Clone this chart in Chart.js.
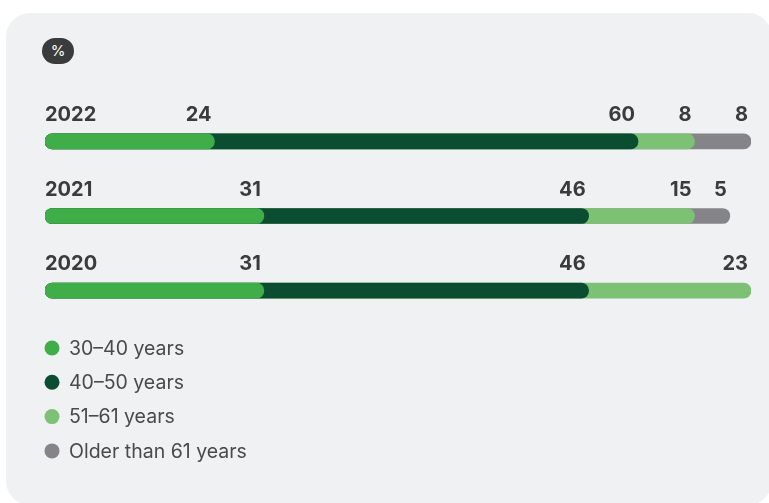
<!DOCTYPE html>
<html>
<head>
<meta charset="utf-8">
<script src="https://cdn.jsdelivr.net/npm/chart.js@4"></script>
<style>
  html, body { margin: 0; padding: 0; background: #ffffff; width: 769px; height: 503px; overflow: hidden; }
  .card { position: absolute; left: 6px; top: 13px; width: 766px; height: 492px; border-radius: 24px; background: #f0f1f3; }
  .badge { position: absolute; left: 42px; top: 38px; width: 32px; height: 26px; border-radius: 13px; background: #3b3b3b;
           color: #ffffff; font: 400 15px Inter, sans-serif; line-height: 26px; text-align: center; }
  .wrap { position: absolute; left: 0; top: 0; width: 769px; height: 503px; }
</style>
</head>
<body>
<div class="card"></div>
<div class="badge">%</div>
<div class="wrap"><canvas id="c"></canvas></div>
<script>
// Age structure by year, in percent
const years = ['2022', '2021', '2020'];
const age30to40 = [24, 31, 31];
const age40to50 = [60, 46, 46];
const age51to61 = [8, 15, 23];
const age61plus = [8, 5, 0];

const seriesLabels = ['30–40 years', '40–50 years', '51–61 years', 'Older than 61 years'];
const seriesColors = ['#3fae49', '#0b4d30', '#7dc274', '#858589'];
const seriesValues = [age30to40, age40to50, age51to61, age61plus];

// Each segment is drawn as a rounded bar from 0 to its running total;
// earlier datasets are painted on top, so the rounded ends overlap.
const runningTotals = seriesValues.map((vals, s) =>
  vals.map((v, i) => {
    if (!v) return null;
    let sum = 0;
    for (let k = 0; k <= s; k++) sum += seriesValues[k][i];
    return sum;
  })
);

const datasets = seriesLabels.map((label, s) => ({
  label,
  data: runningTotals[s],
  segmentValues: seriesValues[s],
  backgroundColor: seriesColors[s],
  borderRadius: 8,
  borderSkipped: false,
  barThickness: 15,
  grouped: false
}));

const textPlugin = {
  id: 'barText',
  afterDatasetsDraw(chart) {
    const ctx = chart.ctx;
    const xs = chart.scales.x;
    const ys = chart.scales.y;
    ctx.save();
    ctx.font = '700 20px Inter, sans-serif';
    ctx.fillStyle = '#3b3b3b';
    ctx.textBaseline = 'alphabetic';
    years.forEach((yr, i) => {
      const yc = ys.getPixelForValue(i);
      const base = yc - 20.5;
      ctx.textAlign = 'left';
      ctx.fillText(yr, xs.getPixelForValue(0), base);
      chart.data.datasets.forEach(ds => {
        const v = ds.segmentValues[i];
        const end = ds.data[i];
        if (!v || end == null) return;
        ctx.textAlign = 'right';
        ctx.fillText(String(v), xs.getPixelForValue(end) - 3, base);
      });
    });
    // legend column
    ctx.font = '400 19.5px Inter, sans-serif';
    ctx.textBaseline = 'middle';
    ctx.textAlign = 'left';
    chart.data.datasets.forEach((ds, s) => {
      const y = 348 + s * 34.3;
      ctx.beginPath();
      ctx.fillStyle = ds.backgroundColor;
      ctx.arc(52, y, 7.5, 0, Math.PI * 2);
      ctx.fill();
      ctx.fillStyle = '#4a4a4a';
      ctx.fillText(ds.label, 69, y + 1);
    });
    ctx.restore();
  }
};

new Chart(document.getElementById('c'), {
  type: 'bar',
  data: { labels: years, datasets },
  options: {
    indexAxis: 'y',
    responsive: true,
    maintainAspectRatio: false,
    animation: false,
    layout: { padding: { left: 45, right: 18, top: 104, bottom: 175 } },
    scales: {
      x: { display: false, min: 0, max: 100, stacked: false },
      y: { display: false, stacked: false, offset: true }
    },
    plugins: { legend: { display: false }, tooltip: { enabled: false } }
  },
  plugins: [textPlugin]
});
</script>
</body>
</html>
